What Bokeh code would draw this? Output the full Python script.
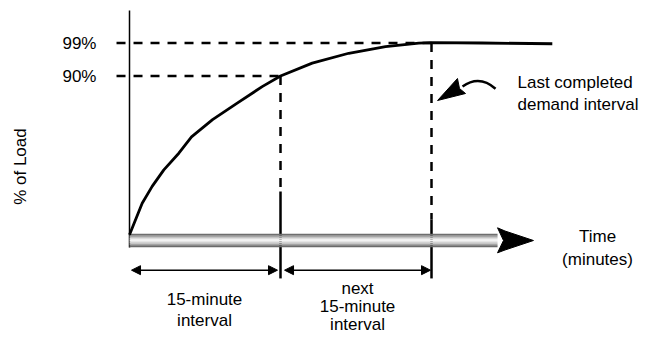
from bokeh.plotting import figure
from bokeh.models import Arrow, NormalHead
from bokeh.core.properties import value
from bokeh.embed import file_html
from bokeh.resources import INLINE

# ---- data ----
minutes = [0.0, 1.26, 2.25, 3.41, 4.90, 6.16, 8.25, 10.70, 13.18, 15.0,
           18.15, 21.78, 25.43, 28.74, 30.0, 35.0, 42.0]
load_pct = [46.7, 55.3, 59.9, 64.4, 68.95, 73.4, 78.1, 82.6, 87.1, 90.0,
            93.5, 96.2, 98.0, 98.95, 99.1, 99.0, 98.8]
tick_levels = [99, 90]
tick_labels = ["99%", "90%"]
interval_bounds = [0, 15, 30]
interval_text_1 = ["15-minute", "interval"]
interval_text_2 = ["next", "15-minute", "interval"]
note_text = ["Last completed", "demand interval"]
time_text = ["Time", "(minutes)"]
y_title = "% of Load"

FONT = value("Liberation Sans")
FS = "17px"

p = figure(width=641, height=334, x_range=(-12.815, 50.86), y_range=(19.51, 110.59),
           x_axis_type=None, y_axis_type=None, output_backend="svg",
           toolbar_location=None, min_border=0)
p.grid.visible = False
p.outline_line_color = None
p.background_fill_color = "white"

t0, t15, t30 = interval_bounds
bar_bottom, bar_top = 43.31, 46.97
bar_mid = 45.14
bar_end = 36.56

# vertical "% of load" axis line
p.segment(x0=[t0], y0=[107.86], x1=[t0], y1=[43.23], line_color="black", line_width=1.5)

# dashed reference lines
lab_x = -1.29
p.segment(x0=[lab_x, lab_x], y0=tick_levels, x1=[t30, t15], y1=tick_levels,
          line_color="black", line_width=2.5, line_dash="9 8")
p.segment(x0=[t15, t30], y0=[tick_levels[1], tick_levels[0]], x1=[t15, t30], y1=[58.5, 50.87],
          line_color="black", line_width=2.5, line_dash="9 8")
p.segment(x0=[t15, t30], y0=[58.5, 50.87], x1=[t15, t30], y1=[34.8, 34.8],
          line_color="black", line_width=2.5)

# time bar with a cylinder-like gradient
shades = ["#6e6e6e", "#a6a6a6", "#dcdcdc", "#f3f3f3", "#d2d2d2", "#a4a4a4", "#6a6a6a"]
n = len(shades)
h = (bar_top - bar_bottom) / n
tops = [bar_top - i * h for i in range(n)]
bots = [bar_top - (i + 1) * h for i in range(n)]
p.quad(left=[t0] * n, right=[bar_end] * n, top=tops, bottom=bots,
       fill_color=shades, line_color=None)
# arrow head of the time bar
p.patch(x=[36.56, 37.3, 40.13, 37.3, 36.56, 37.15],
        y=[48.6, 47.73, bar_mid, 42.55, 41.79, bar_mid],
        fill_color="black", line_color="black", line_width=1)

# load curve
p.line(minutes, load_pct, line_color="black", line_width=2.8, line_join="round")

# interval arrows
arr_y = 37.05
for xs, xe in [(0.2, 14.7), (15.4, 29.9)]:
    p.add_layout(Arrow(x_start=xs, y_start=arr_y, x_end=xe, y_end=arr_y,
                       line_color="black", line_width=1.5,
                       start=NormalHead(size=9, fill_color="black", line_color="black", line_width=1),
                       end=NormalHead(size=9, fill_color="black", line_color="black", line_width=1)))

# curved pointer arrow
p.quadratic(x0=[36.36], y0=[86.51], x1=[33.08], y1=[87.14], cx=[34.77], cy=[90.41],
            line_color="black", line_width=2.5)
p.patch(x=[30.6, 32.58, 32.78, 33.38], y=[83.32, 89.32, 86.59, 85.23],
        fill_color="black", line_color="black", line_width=1)

# texts
p.text(x=[-3.28, -3.28], y=tick_levels, text=tick_labels, text_align="right",
       text_baseline="middle", text_font=FONT, text_font_size=FS, text_color="black")
p.text(x=[-10.83], y=[65.3], text=[y_title], angle=1.5708, text_align="center",
       text_baseline="middle", text_font=FONT, text_font_size=FS, text_color="black")
p.text(x=[38.54, 38.54], y=[88.23, 82.23], text=note_text, text_align="left",
       text_baseline="middle", text_font=FONT, text_font_size=FS, text_color="black")
p.text(x=[46.49, 46.49], y=[46.23, 39.96], text=time_text, text_align="center",
       text_baseline="middle", text_font=FONT, text_font_size=FS, text_color="black")
p.text(x=[7.45, 7.45], y=[29.06, 23.33], text=interval_text_1, text_align="center",
       text_baseline="middle", text_font=FONT, text_font_size=FS, text_color="black")
p.text(x=[22.65, 22.65, 22.65], y=[32.05, 27.14, 22.23], text=interval_text_2, text_align="center",
       text_baseline="middle", text_font=FONT, text_font_size=FS, text_color="black")

open("out.html", "w").write(file_html(p, INLINE))
